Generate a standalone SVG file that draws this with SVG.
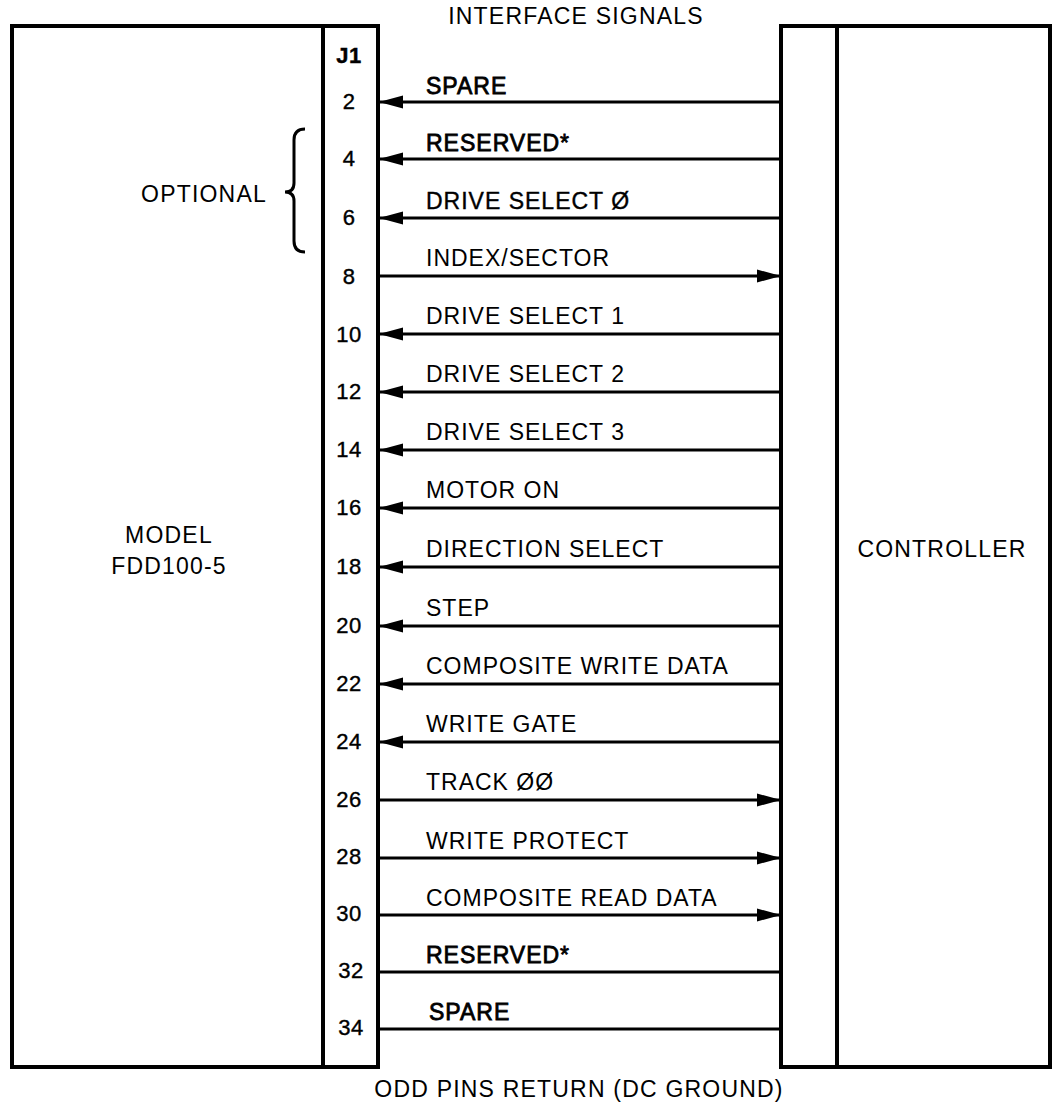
<svg xmlns="http://www.w3.org/2000/svg" width="1052" height="1104" viewBox="0 0 1052 1104">
<style>
  .box{fill:none;stroke:#000;stroke-width:4}
  .sig{fill:none;stroke:#000;stroke-width:3}
  .lbl{font-family:"Liberation Sans",Arial,sans-serif;font-size:23px;letter-spacing:1px;fill:#000}
  .b{stroke:#000;stroke-width:0.8px}
  .s{stroke:#000;stroke-width:0.4px}
  .pin{font-family:"Liberation Sans",Arial,sans-serif;font-size:22px;letter-spacing:0.5px;fill:#000;text-anchor:middle;stroke:#000;stroke-width:0.4px}
  .big{font-family:"Liberation Sans",Arial,sans-serif;font-size:23px;letter-spacing:1.2px;fill:#000;text-anchor:middle}
</style>
<defs>
  <marker id="ah" markerUnits="userSpaceOnUse" markerWidth="24" markerHeight="14" viewBox="0 0 24 14" refX="23" refY="7" orient="auto">
    <path d="M0,0.5 L24,7 L0,13.5 z" fill="#000"/>
  </marker>
</defs>
<rect width="1052" height="1104" fill="#fff"/>

<g id="drive">
  <rect class="box" x="12" y="26" width="366" height="1041"/>
  <line class="box" x1="323" y1="26" x2="323" y2="1067"/>
  <text class="big" x="169" y="543">MODEL</text>
  <text class="big" x="169" y="574">FDD100-5</text>
</g>

<g id="optional">
  <text class="big" x="204" y="202">OPTIONAL</text>
  <path class="sig" d="M305,129 Q294,129 294,140 L294,183 Q294,192 285,192 Q294,192 294,201 L294,241 Q294,252 305,252"/>
</g>

<g id="controller">
  <rect class="box" x="781" y="26" width="269" height="1041"/>
  <line class="box" x1="837" y1="26" x2="837" y2="1067"/>
  <text class="big" x="942" y="557">CONTROLLER</text>
</g>

<g id="titles">
  <text class="big" x="576" y="24">INTERFACE SIGNALS</text>
  <text class="big" x="579" y="1097">ODD PINS RETURN (DC GROUND)</text>
</g>

<g id="pins">
  <text class="pin" x="349" y="63" font-weight="bold">J1</text>
  <text class="pin" x="349" y="109">2</text>
  <text class="pin" x="349" y="166">4</text>
  <text class="pin" x="349" y="225">6</text>
  <text class="pin" x="349" y="284">8</text>
  <text class="pin" x="349" y="342">10</text>
  <text class="pin" x="349" y="399">12</text>
  <text class="pin" x="349" y="457">14</text>
  <text class="pin" x="349" y="515">16</text>
  <text class="pin" x="349" y="574">18</text>
  <text class="pin" x="349" y="633">20</text>
  <text class="pin" x="349" y="691">22</text>
  <text class="pin" x="349" y="749">24</text>
  <text class="pin" x="349" y="807">26</text>
  <text class="pin" x="349" y="864">28</text>
  <text class="pin" x="349" y="921">30</text>
  <text class="pin" x="351" y="978">32</text>
  <text class="pin" x="351" y="1035">34</text>
</g>

<g id="connectors">
  <line class="sig" x1="781" y1="102" x2="380" y2="102" marker-end="url(#ah)"/>
  <line class="sig" x1="781" y1="159" x2="380" y2="159" marker-end="url(#ah)"/>
  <line class="sig" x1="781" y1="218" x2="380" y2="218" marker-end="url(#ah)"/>
  <line class="sig" x1="378" y1="276" x2="780" y2="276" marker-end="url(#ah)"/>
  <line class="sig" x1="781" y1="334" x2="380" y2="334" marker-end="url(#ah)"/>
  <line class="sig" x1="781" y1="392" x2="380" y2="392" marker-end="url(#ah)"/>
  <line class="sig" x1="781" y1="450" x2="380" y2="450" marker-end="url(#ah)"/>
  <line class="sig" x1="781" y1="508" x2="380" y2="508" marker-end="url(#ah)"/>
  <line class="sig" x1="781" y1="567" x2="380" y2="567" marker-end="url(#ah)"/>
  <line class="sig" x1="781" y1="626" x2="380" y2="626" marker-end="url(#ah)"/>
  <line class="sig" x1="781" y1="684" x2="380" y2="684" marker-end="url(#ah)"/>
  <line class="sig" x1="781" y1="742" x2="380" y2="742" marker-end="url(#ah)"/>
  <line class="sig" x1="378" y1="800" x2="780" y2="800" marker-end="url(#ah)"/>
  <line class="sig" x1="378" y1="858" x2="780" y2="858" marker-end="url(#ah)"/>
  <line class="sig" x1="378" y1="915" x2="780" y2="915" marker-end="url(#ah)"/>
  <line class="sig" x1="378" y1="972" x2="781" y2="972"/>
  <line class="sig" x1="378" y1="1029" x2="781" y2="1029"/>
</g>

<g id="labels">
  <text class="lbl b" x="426" y="94">SPARE</text>
  <text class="lbl b" x="426" y="151">RESERVED*</text>
  <text class="lbl s" x="426" y="209">DRIVE SELECT Ø</text>
  <text class="lbl" x="426" y="266">INDEX/SECTOR</text>
  <text class="lbl" x="426" y="324">DRIVE SELECT 1</text>
  <text class="lbl" x="426" y="382">DRIVE SELECT 2</text>
  <text class="lbl" x="426" y="440">DRIVE SELECT 3</text>
  <text class="lbl" x="426" y="498">MOTOR ON</text>
  <text class="lbl" x="426" y="557">DIRECTION SELECT</text>
  <text class="lbl" x="426" y="616">STEP</text>
  <text class="lbl" x="426" y="674">COMPOSITE WRITE DATA</text>
  <text class="lbl" x="426" y="732">WRITE GATE</text>
  <text class="lbl" x="426" y="790">TRACK ØØ</text>
  <text class="lbl" x="426" y="849">WRITE PROTECT</text>
  <text class="lbl" x="426" y="906">COMPOSITE READ DATA</text>
  <text class="lbl b" x="426" y="963">RESERVED*</text>
  <text class="lbl b" x="429" y="1020">SPARE</text>
</g>
</svg>
